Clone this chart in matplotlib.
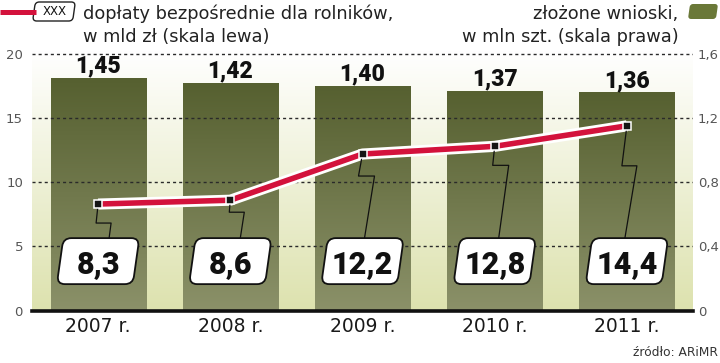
import numpy as np
import matplotlib
matplotlib.use('Agg')
import matplotlib.pyplot as plt
from matplotlib import transforms as mtransforms
from matplotlib.patches import FancyBboxPatch
from matplotlib.lines import Line2D
from matplotlib.colors import LinearSegmentedColormap
import matplotlib.patheffects as pe

# ---------------- data ----------------
years = ['2007 r.', '2008 r.', '2009 r.', '2010 r.', '2011 r.']
payments = [8.3, 8.6, 12.2, 12.8, 14.4]          # mld zł (left scale)
applications = [1.45, 1.42, 1.40, 1.37, 1.36]    # mln szt. (right scale)
left_ticks = [0, 5, 10, 15, 20]
right_ticks = [0, 0.4, 0.8, 1.2, 1.6]
right_tick_labels = ['0', '0,4', '0,8', '1,2', '1,6']

# ---------------- style ----------------
W, H = 720, 363
RED = '#d3123c'
BAR_TOP, BAR_BOT = '#566030', '#8b9169'
BG_TOP, BG_BOT = '#ffffff', '#dde2ae'
NUM_FONT = ['Roboto', 'DejaVu Sans']
TXT_FONT = ['DejaVu Sans']
box_y = 3.85            # vertical centre of the value boxes (left scale)
leader_jog = [19, 12, 22, 19, 40]                       # px below marker
leader_dx = [(-2, 13, 11), (-1, 14, 10), (-4, 12, 2), (-2, 14, 4), (-5, 10, -2)]

plt.rcParams['font.family'] = TXT_FONT

def pl(v, nd):
    return f'{v:.{nd}f}'.replace('.', ',')

fig = plt.figure(figsize=(W / 100, H / 100), dpi=100)
fig.patch.set_facecolor('white')

ytop_px = 54 - 0.2 * 12.825
rect = [32 / W, (H - 310.5) / H, (693 - 32) / W, (310.5 - ytop_px) / H]
ax = fig.add_axes(rect)
ax2 = ax.twinx()
ax.set_zorder(2)
ax2.set_zorder(1)
ax.patch.set_visible(False)

x = np.arange(len(years))
XL = (-0.5, len(years) - 0.5)
ax.set_xlim(*XL)
ax.set_ylim(0, 20.2)
ax2.set_ylim(0, 1.616)

# background gradient
bg_cmap = LinearSegmentedColormap.from_list('bg', [BG_BOT, BG_TOP])
grad = np.linspace(0, 1, 256).reshape(-1, 1)
ax2.imshow(grad, extent=(XL[0], XL[1], 0, 1.616), aspect='auto', cmap=bg_cmap,
           origin='lower', zorder=0, interpolation='bicubic')

# bars with gradient
bar_cmap = LinearSegmentedColormap.from_list('bar', [BAR_BOT, BAR_TOP])
rects = ax2.bar(x, applications, width=0.72, color='none', zorder=2)
for r, v in zip(rects, applications):
    x0, w, h = r.get_x(), r.get_width(), r.get_height()
    ax2.imshow(grad, extent=(x0, x0 + w, 0, h), aspect='auto', cmap=bar_cmap,
               origin='lower', zorder=2, interpolation='bicubic')
    ax2.annotate(pl(v, 2), (x0 + w / 2, h), xytext=(0, 4), textcoords='offset points',
                 ha='center', va='baseline', fontsize=16.5, fontweight=900,
                 family=NUM_FONT, color='#111', zorder=3)
ax2.set_xlim(*XL)
ax2.set_ylim(0, 1.616)

# grid (drawn above bars)
ax.set_yticks(left_ticks)
ax.yaxis.grid(True, linestyle=(0, (2.2, 2.2)), color='#2a2a2a', lw=1.0)
ax.xaxis.grid(False)
ax.set_axisbelow(True)

# ticks
ax.set_xticks(x, years)
ax.tick_params(axis='x', length=0, pad=5, labelsize=13.5, labelcolor='#1a1a1a')
ax.tick_params(axis='y', length=0, pad=6.5, labelsize=9.5, labelcolor='#555555')
ax2.set_yticks(right_ticks, right_tick_labels)
ax2.tick_params(axis='y', length=0, pad=3.6, labelsize=9.5, labelcolor='#555555')
for a in (ax, ax2):
    for s in ('top', 'left', 'right'):
        a.spines[s].set_visible(False)
ax2.spines['bottom'].set_visible(False)
ax.spines['bottom'].set_linewidth(2.6)
ax.spines['bottom'].set_color('#111')
ax.spines['bottom'].set_zorder(8)

# line
ax.plot(x, payments, color=RED, lw=4.0, solid_capstyle='butt', zorder=4,
        path_effects=[pe.Stroke(linewidth=8.0, foreground='white'), pe.Normal()])
ax.plot(x, payments, 's', ms=5.4, mfc='#151515', mec='white', mew=1.1, zorder=5)

# leader lines + value boxes
for i, v in enumerate(payments):
    pm = ax.transData.transform((i, v))
    pb = ax.transData.transform((i, box_y))
    d1, d2, d3 = leader_dx[i]
    j = leader_jog[i]
    xs = [pm[0], pm[0] + d1, pm[0] + d2, pb[0] + d3]
    ys = [pm[1], pm[1] - j, pm[1] - j, pb[1] + 23]
    ax.add_artist(Line2D(xs, ys, transform=mtransforms.IdentityTransform(),
                         color='#111', lw=0.9, zorder=4.5))
    box = FancyBboxPatch((-38, -23), 76, 46, boxstyle='round,pad=0,rounding_size=8',
                         fc='white', ec='#111', lw=1.3, zorder=6,
                         transform=mtransforms.Affine2D().skew_deg(8, 0).translate(pb[0], pb[1]))
    ax.add_artist(box)
    ax.annotate(pl(v, 1), (i, box_y), xytext=(0, -8.4), textcoords='offset points',
                ha='center', va='baseline', fontsize=22, fontweight=900,
                family=NUM_FONT, color='#111', zorder=7)

# ---------------- legend / header ----------------
def fx(px):
    return px / W

def fy(py):
    return 1 - py / H

fig.add_artist(Line2D([fx(0), fx(36)], [fy(12), fy(12)], transform=fig.transFigure,
                      color=RED, lw=3.6, solid_capstyle='butt'))
lb = FancyBboxPatch((-20, -9.5), 40, 19, boxstyle='round,pad=0,rounding_size=4',
                    fc='white', ec='#222', lw=1.0,
                    transform=mtransforms.Affine2D().skew_deg(8, 0).translate(54, H - 11.5))
fig.add_artist(lb)
fig.text(fx(55), fy(11.5), 'XXX', ha='center', va='center', fontsize=8.5, color='#111')
fig.text(fx(83), fy(19), 'dopłaty bezpośrednie dla rolników,', ha='left', va='baseline',
         fontsize=12.8, color='#222')
fig.text(fx(83), fy(42), 'w mld zł (skala lewa)', ha='left', va='baseline',
         fontsize=12.8, color='#222')
fig.text(fx(678), fy(19), 'złożone wnioski,', ha='right', va='baseline',
         fontsize=12.8, color='#222')
fig.text(fx(679), fy(42), 'w mln szt. (skala prawa)', ha='right', va='baseline',
         fontsize=12.8, color='#222')
sw = FancyBboxPatch((-14, -7.5), 28, 15, boxstyle='round,pad=0,rounding_size=3',
                    fc='#6a7838', ec='none',
                    transform=mtransforms.Affine2D().skew_deg(8, 0).translate(703, H - 11.5))
fig.add_artist(sw)
fig.text(fx(718), fy(356), 'źródło: ARiMR', ha='right', va='baseline',
         fontsize=8.8, color='#333')

fig.savefig('out.png', dpi=100, facecolor='white')
